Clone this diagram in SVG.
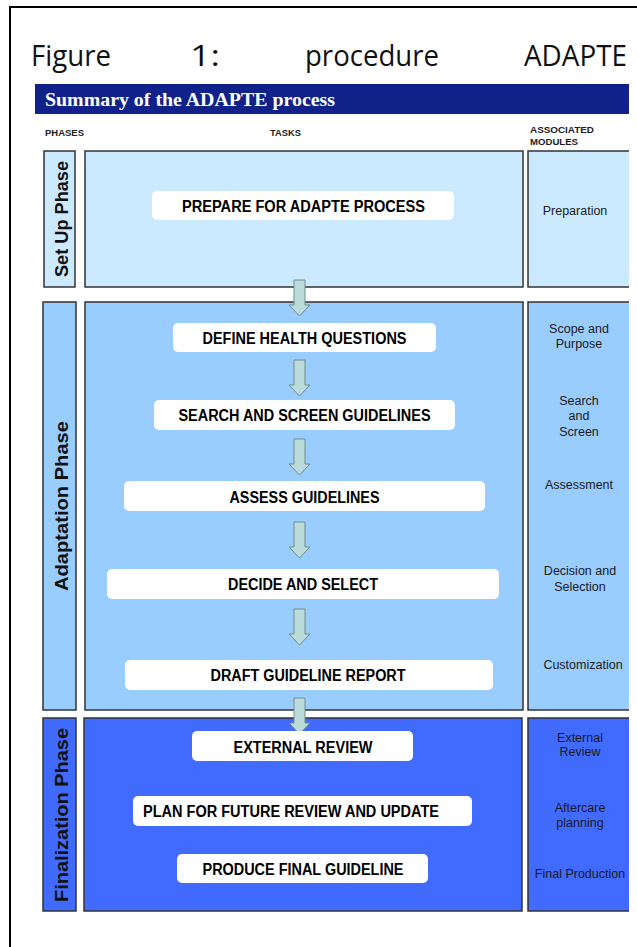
<svg xmlns="http://www.w3.org/2000/svg" width="637" height="947" viewBox="0 0 637 947">
<style>
.fig{font-family:"Open Sans","Liberation Sans",sans-serif;font-size:29px;fill:#111}
.hdr{font-family:"Liberation Serif",serif;font-weight:bold;font-size:18px;fill:#fff}
.col{font-family:"Liberation Sans",Arial,sans-serif;font-weight:bold;font-size:8.5px;fill:#222}
.phase{font-family:"Liberation Sans",Arial,sans-serif;font-weight:bold;font-size:19px;fill:#111;text-anchor:middle}
.task{font-family:"Liberation Sans",Arial,sans-serif;font-weight:bold;font-size:16px;fill:#000;text-anchor:middle}
.mod{font-family:"Liberation Sans",Arial,sans-serif;font-size:12.5px;fill:#1a1a1a;text-anchor:middle}
.box{stroke:#333;stroke-width:1.5}
.tb{fill:#fff}
.arr{fill:#bcdcdc;stroke:#6e8c8c;stroke-width:1}
</style>
<defs>
<path id="arrow" d="M-5.5,0 H5.5 V25 H10.5 L0,36 L-10.5,25 H-5.5 Z"/>
</defs>
<rect x="0" y="0" width="637" height="947" fill="#fff"/>
<path d="M10,947 V7 H637" fill="none" stroke="#000" stroke-width="2"/>

<g id="title">
<text class="fig" x="31" y="66" textLength="80" lengthAdjust="spacingAndGlyphs">Figure</text>
<text class="fig" x="190" y="66" textLength="30" lengthAdjust="spacingAndGlyphs">1:</text>
<text class="fig" x="305" y="66" textLength="134" lengthAdjust="spacingAndGlyphs">procedure</text>
<text class="fig" x="524" y="66" textLength="103" lengthAdjust="spacingAndGlyphs">ADAPTE</text>
</g>

<g id="header">
<rect x="35" y="84" width="594" height="30" fill="#10228a"/>
<text class="hdr" x="45" y="106" textLength="290" lengthAdjust="spacingAndGlyphs">Summary of the ADAPTE process</text>
<text class="col" x="45" y="136" textLength="39" lengthAdjust="spacingAndGlyphs">PHASES</text>
<text class="col" x="270" y="136" textLength="31" lengthAdjust="spacingAndGlyphs">TASKS</text>
<text class="col" x="530" y="133" textLength="64" lengthAdjust="spacingAndGlyphs">ASSOCIATED</text>
<text class="col" x="530" y="145" textLength="48" lengthAdjust="spacingAndGlyphs">MODULES</text>
</g>

<g id="setup-phase">
<rect class="box" x="44" y="151" width="31" height="136" fill="#cceaff"/>
<text class="phase" transform="translate(68,219) rotate(-90)" textLength="116" lengthAdjust="spacingAndGlyphs">Set Up Phase</text>
</g>
<g id="setup-tasks">
<rect class="box" x="85" y="151" width="438" height="136" fill="#cceaff"/>
</g>
<g id="setup-modules">
<rect class="box" x="528" y="151" width="110" height="136" fill="#cceaff"/>
<text class="mod" x="575" y="215">Preparation</text>
</g>

<g id="adaptation-phase">
<rect class="box" x="43" y="302" width="33" height="408" fill="#99ccff"/>
<text class="phase" transform="translate(68,506) rotate(-90)" textLength="170" lengthAdjust="spacingAndGlyphs">Adaptation Phase</text>
</g>
<g id="adaptation-tasks">
<rect class="box" x="85" y="302" width="438" height="408" fill="#99ccff"/>
</g>
<g id="adaptation-modules">
<rect class="box" x="528" y="302" width="110" height="408" fill="#99ccff"/>
<text class="mod" x="579" y="333">Scope and</text>
<text class="mod" x="579" y="348">Purpose</text>
<text class="mod" x="579" y="405">Search</text>
<text class="mod" x="579" y="420">and</text>
<text class="mod" x="579" y="436">Screen</text>
<text class="mod" x="579" y="489">Assessment</text>
<text class="mod" x="580" y="575">Decision and</text>
<text class="mod" x="580" y="591">Selection</text>
<text class="mod" x="583" y="669">Customization</text>
</g>

<g id="finalization-phase">
<rect class="box" x="43" y="718" width="33" height="193" fill="#416bff"/>
<text class="phase" transform="translate(68,815) rotate(-90)" textLength="174" lengthAdjust="spacingAndGlyphs">Finalization Phase</text>
</g>
<g id="finalization-tasks">
<rect class="box" x="84" y="718" width="438" height="193" fill="#416bff"/>
</g>
<g id="finalization-modules">
<rect class="box" x="528" y="718" width="110" height="193" fill="#416bff"/>
<text class="mod" x="580" y="742">External</text>
<text class="mod" x="580" y="756">Review</text>
<text class="mod" x="580" y="812">Aftercare</text>
<text class="mod" x="580" y="827">planning</text>
<text class="mod" x="580" y="878">Final Production</text>
</g>

<rect x="629" y="78" width="8" height="869" fill="#fff"/>

<g id="connectors">
<use href="#arrow" class="arr" x="299.5" y="280"/>
<use href="#arrow" class="arr" x="299.5" y="360"/>
<use href="#arrow" class="arr" x="299.5" y="439"/>
<use href="#arrow" class="arr" x="299.5" y="522"/>
<use href="#arrow" class="arr" x="299.5" y="609"/>
<use href="#arrow" class="arr" x="299.5" y="698"/>
</g>

<g id="task-prepare">
<rect class="tb" x="152" y="191" width="302" height="29" rx="5"/>
<text class="task" x="303.5" y="212" textLength="243" lengthAdjust="spacingAndGlyphs">PREPARE FOR ADAPTE PROCESS</text>
</g>
<g id="task-define">
<rect class="tb" x="173" y="323" width="263" height="29" rx="5"/>
<text class="task" x="304.5" y="344" textLength="204" lengthAdjust="spacingAndGlyphs">DEFINE HEALTH QUESTIONS</text>
</g>
<g id="task-search">
<rect class="tb" x="154" y="400" width="301" height="30" rx="5"/>
<text class="task" x="304.5" y="421" textLength="252" lengthAdjust="spacingAndGlyphs">SEARCH AND SCREEN GUIDELINES</text>
</g>
<g id="task-assess">
<rect class="tb" x="124" y="481" width="361" height="30" rx="5"/>
<text class="task" x="304.5" y="502.5" textLength="150" lengthAdjust="spacingAndGlyphs">ASSESS GUIDELINES</text>
</g>
<g id="task-decide">
<rect class="tb" x="107" y="569" width="392" height="30" rx="5"/>
<text class="task" x="303" y="590" textLength="150" lengthAdjust="spacingAndGlyphs">DECIDE AND SELECT</text>
</g>
<g id="task-draft">
<rect class="tb" x="125" y="660" width="368" height="30" rx="5"/>
<text class="task" x="308" y="681" textLength="195" lengthAdjust="spacingAndGlyphs">DRAFT GUIDELINE REPORT</text>
</g>
<g id="task-external">
<rect class="tb" x="192" y="731" width="221" height="30" rx="5"/>
<text class="task" x="303" y="752.5" textLength="139" lengthAdjust="spacingAndGlyphs">EXTERNAL REVIEW</text>
</g>
<g id="task-plan">
<rect class="tb" x="133" y="796" width="339" height="30" rx="5"/>
<text class="task" x="291" y="817" textLength="296" lengthAdjust="spacingAndGlyphs">PLAN FOR FUTURE REVIEW AND UPDATE</text>
</g>
<g id="task-produce">
<rect class="tb" x="177" y="854" width="251" height="29" rx="5"/>
<text class="task" x="303" y="875" textLength="201" lengthAdjust="spacingAndGlyphs">PRODUCE FINAL GUIDELINE</text>
</g>
</svg>
